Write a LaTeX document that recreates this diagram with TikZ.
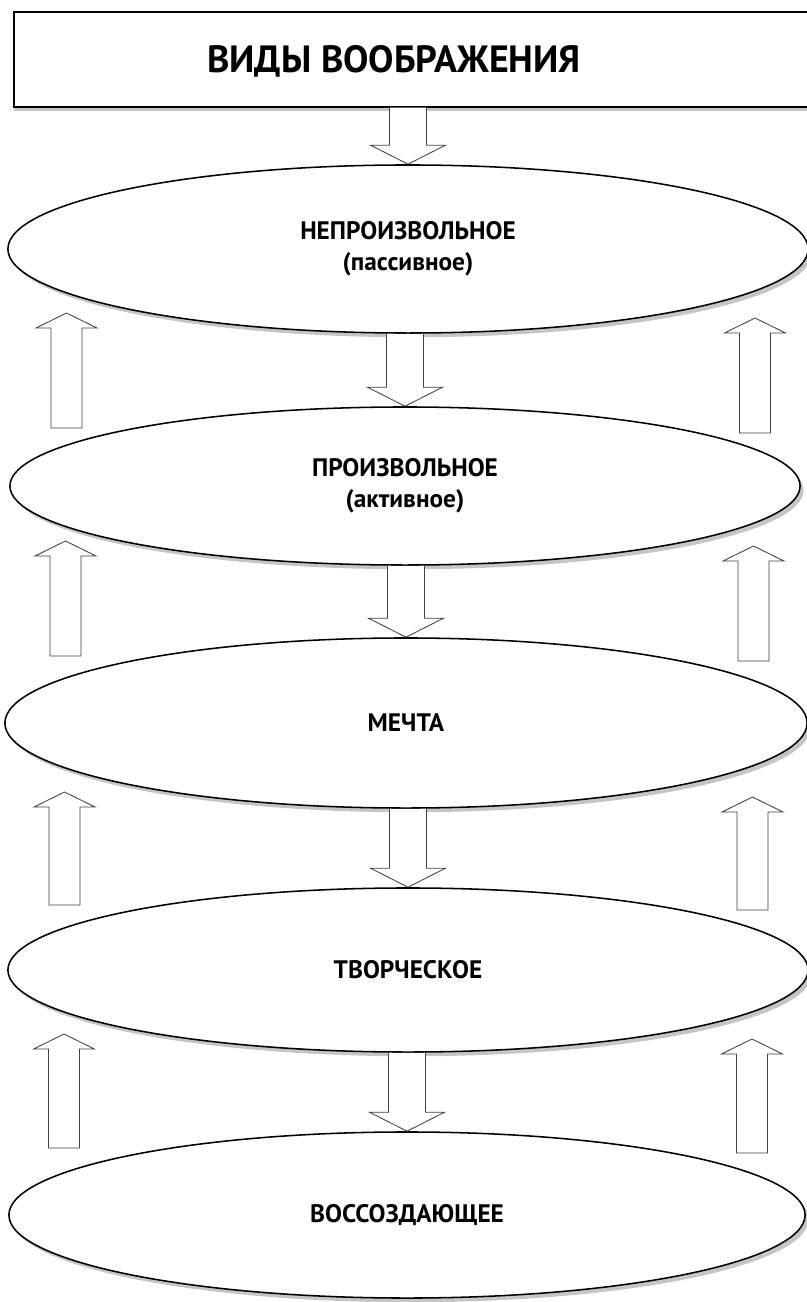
\documentclass[tikz,border=0pt]{standalone}
\usepackage{fontspec}
\setmainfont{PT Sans}
\usetikzlibrary{calc,shapes.geometric,shadows}

% hollow block arrows
\newcommand{\blockup}[3]{%
	\draw[hollow] (#1-15.5,#3) -- (#1-15.5,#2+15) -- (#1-30.5,#2+15) -- (#1,#2)
		-- (#1+30.5,#2+15) -- (#1+15.5,#2+15) -- (#1+15.5,#3) -- cycle;}
\newcommand{\blockdown}[2]{%
	\draw[hollow] let \p1=(#1.south), \p2=(#2.north) in
		(\x2-0.4625cm,\y1) -- (\x2-0.4625cm,\y2+0.475cm) -- (\x2-0.9375cm,\y2+0.475cm)
		-- (\x2,\y2) -- (\x2+0.9375cm,\y2+0.475cm) -- (\x2+0.4625cm,\y2+0.475cm) -- (\x2+0.4625cm,\y1);}

\begin{document}
\begin{tikzpicture}[
		x=0.025cm, y=-0.025cm,
		hollow/.style={draw=black!75, line width=0.6pt, fill=white, line join=miter},
		titlebox/.style={draw, line width=1pt, fill=white, inner sep=0pt,
			minimum width=19.95cm, minimum height=2.375cm,
			drop shadow={shadow xshift=0pt, shadow yshift=-2.5pt, fill=black!45}},
		oval/.style={ellipse, draw, line width=1.1pt, fill=white, inner sep=0pt, align=center,
			font=\fontsize{18}{22}\selectfont\bfseries,
			drop shadow={shadow xshift=2.5pt, shadow yshift=-3pt, fill=black!45}}
	]
		\useasboundingbox (0,0) rectangle (807,1302);

		\node[titlebox, label={[font=\fontsize{27}{32}\selectfont\bfseries, xshift=-0.475cm, yshift=-0.05cm]center:ВИДЫ ВООБРАЖЕНИЯ}] (title) at (413,59.5) {};

		\node[oval, minimum width=20cm, minimum height=4.2cm] (invol) at (408,249) {НЕПРОИЗВОЛЬНОЕ\\(пассивное)};
		\node[oval, minimum width=19.75cm, minimum height=3.95cm] (vol) at (405,486) {ПРОИЗВОЛЬНОЕ\\(активное)};
		\node[oval, minimum width=20.05cm, minimum height=4.25cm] (dream) at (406,723) {МЕЧТА};
		\node[oval, minimum width=20cm, minimum height=4.1cm] (creative) at (408,970) {ТВОРЧЕСКОЕ};
		\node[oval, minimum width=19.9cm, minimum height=4.15cm] (recreat) at (407,1215) {ВОССОЗДАЮЩЕЕ};

		\blockdown{title}{invol}
		\blockdown{invol}{vol}
		\blockdown{vol}{dream}
		\blockdown{dream}{creative}
		\blockdown{creative}{recreat}

		\foreach \xa/\ya/\yb in {66.5/313/428, 65.5/541/656, 64.5/792/905, 64/1034/1148,
				755/318/433, 753.5/546/661, 752.5/797/910, 752/1039/1153}
			\blockup{\xa}{\ya}{\yb};
	\end{tikzpicture}
\end{document}
